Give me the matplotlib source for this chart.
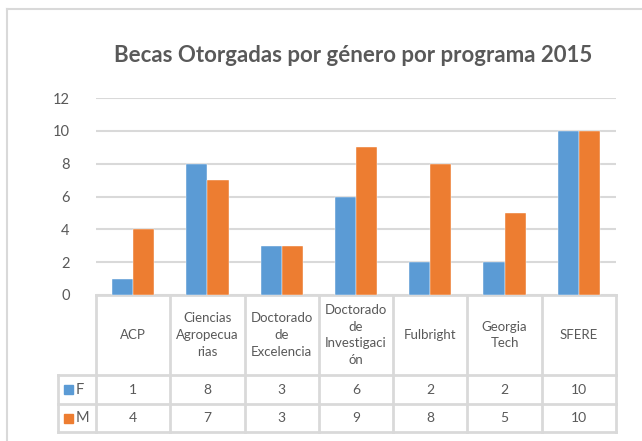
import matplotlib
matplotlib.use("Agg")
import matplotlib.pyplot as plt
from matplotlib.patches import Rectangle
from matplotlib.lines import Line2D

plt.rcParams["font.family"] = ["Lato", "DejaVu Sans"]

# data
programas = ["ACP", "Ciencias\nAgropecua\nrias", "Doctorado\nde\nExcelencia",
             "Doctorado\nde\nInvestigaci\nón", "Fulbright", "Georgia\nTech", "SFERE"]
series_names = ["F", "M"]
f_vals = [1, 8, 3, 6, 2, 2, 10]
m_vals = [4, 7, 3, 9, 8, 5, 10]
yticks = [0, 2, 4, 6, 8, 10, 12]

blue = "#5b9bd5"
orange = "#ed7d31"
txt = "#595959"
grid = "#d9d9d9"

fig = plt.figure(figsize=(6.42, 4.41), dpi=100)
W, H = 642, 441

# outer chart border (only top and left visible)
fig.add_artist(Line2D([7 / W, 1], [1 - 9 / H, 1 - 9 / H], color=grid, lw=1.5))
fig.add_artist(Line2D([7 / W, 7 / W], [0, 1 - 9 / H], color=grid, lw=1.5))

x0, x1, y0, y1 = 96, 616, 295, 98
ax = fig.add_axes([x0 / W, 1 - y0 / H, (x1 - x0) / W, (y0 - y1) / H])

x = list(range(len(programas)))
bw = 0.285
ax.bar([i - bw / 2 for i in x], f_vals, width=bw, color=blue, edgecolor="white", linewidth=0.3, zorder=3)
ax.bar([i + bw / 2 for i in x], m_vals, width=bw, color=orange, edgecolor="white", linewidth=0.3, zorder=3)

ax.set_xlim(-0.5, len(programas) - 0.5)
ax.set_ylim(0, 12)
ax.set_yticks(yticks)
ax.set_yticklabels([str(v) for v in yticks], fontsize=10.5, color=txt)
ax.tick_params(axis="y", length=0, pad=19)
ax.set_xticks([])
for s in ax.spines.values():
    s.set_visible(False)
ax.yaxis.grid(True, color=grid, lw=1.5, zorder=0)
ax.set_axisbelow(True)

fig.text(353 / W, 1 - 56 / H, "Becas Otorgadas por género por programa 2015",
         ha="center", va="center", fontsize=16, fontweight="bold", color=txt)

# data table below the axis
tr = ax.get_xaxis_transform()
def yf(py):
    return (y0 - py) / (y0 - y1)

r0, r1, r2, r3 = yf(295), yf(375), yf(404), yf(432)
xl = -0.5 - (96 - 58) / ((x1 - x0) / len(programas))
n = len(programas)
lk = dict(color=grid, lw=2, transform=tr, clip_on=False, zorder=1)
ax.plot([-0.5, n - 0.5], [r0, r0], **lk)
for yy in (r1, r2, r3):
    ax.plot([xl, n - 0.5], [yy, yy], **lk)
ax.plot([xl, xl], [r1, r3], **lk)
for k in range(n + 1):
    ax.plot([k - 0.5, k - 0.5], [r0, r3], **lk)

for i, p in enumerate(programas):
    ax.text(i, (r0 + r1) / 2, p, transform=tr, ha="center", va="center",
            fontsize=9.5, color=txt, linespacing=1.45, clip_on=False)
    ax.text(i, (r1 + r2) / 2, str(f_vals[i]), transform=tr, ha="center", va="center",
            fontsize=10, color=txt, clip_on=False)
    ax.text(i, (r2 + r3) / 2, str(m_vals[i]), transform=tr, ha="center", va="center",
            fontsize=10, color=txt, clip_on=False)

for name, col, (ya, yb) in zip(series_names, [blue, orange], [(r1, r2), (r2, r3)]):
    ym = (ya + yb) / 2
    sq_h = 9 / (y0 - y1)
    sq_w = 9 / ((x1 - x0) / n)
    ax.add_patch(Rectangle((xl + 0.08, ym - sq_h / 2), sq_w, sq_h, transform=tr,
                           color=col, clip_on=False))
    ax.text(xl + 0.08 + sq_w + 0.03, ym, name, transform=tr, ha="left", va="center",
            fontsize=10.5, color=txt, clip_on=False)

fig.savefig("out.png", dpi=100)
